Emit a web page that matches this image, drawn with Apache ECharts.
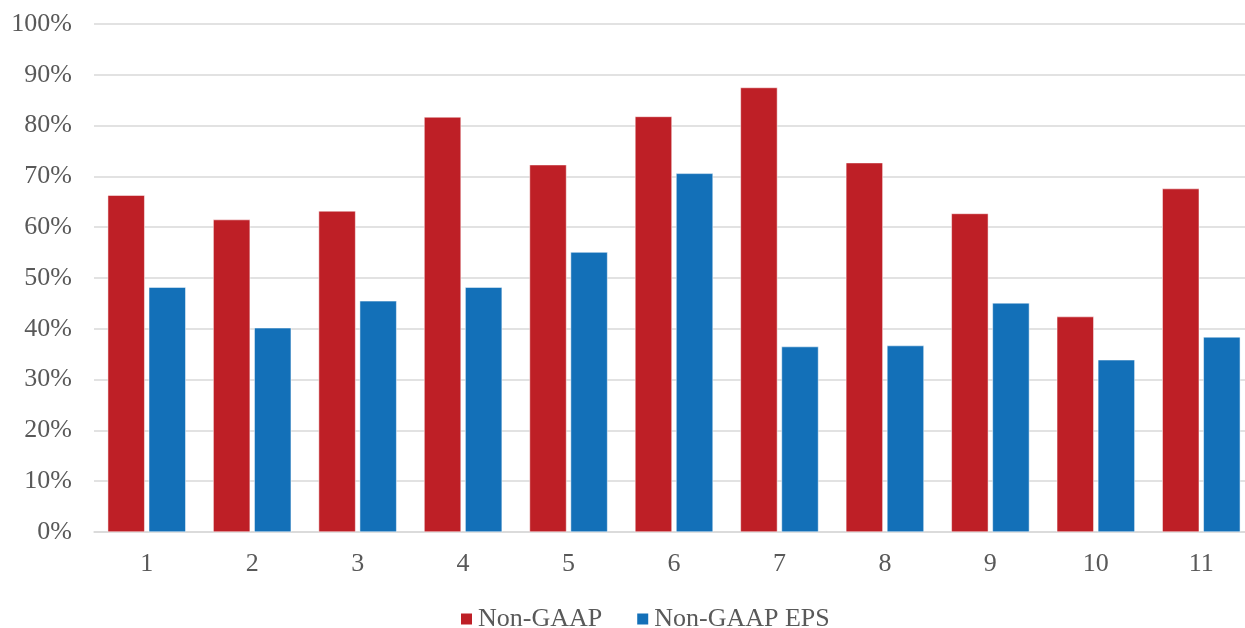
<!DOCTYPE html>
<html>
<head>
<meta charset="utf-8">
<script src="https://cdn.jsdelivr.net/npm/echarts@6/dist/echarts.min.js"></script>
<style>
html,body{margin:0;padding:0;background:#fff;overflow:hidden;}
#chart{width:1245px;height:628px;}
</style>
</head>
<body>
<div id="chart"></div>
<script>
const categories = ['1','2','3','4','5','6','7','8','9','10','11'];
const nonGaap = [66.3, 61.5, 63.2, 81.7, 72.3, 81.8, 87.5, 72.7, 62.7, 42.4, 67.6];
const nonGaapEps = [48.2, 40.2, 45.5, 48.2, 55.1, 70.6, 36.5, 36.7, 45.1, 33.9, 38.4];
const seriesNames = ['Non-GAAP', 'Non-GAAP EPS'];

const font = '"Liberation Serif", "Times New Roman", serif';
const chart = echarts.init(document.getElementById('chart'));
chart.setOption({
  animation: false,
  grid: { left: 94, width: 1160, top: 24, bottom: 96, outerBoundsMode: 'none', containLabel: false },
  legend: {
    data: seriesNames,
    bottom: -4,
    left: 459,
    padding: 0,
    itemWidth: 13,
    itemHeight: 13,
    itemGap: 33,
    icon: 'rect',
    textStyle: { fontFamily: font, fontSize: 26, color: '#595959' }
  },
  xAxis: {
    type: 'category',
    data: categories,
    axisLine: { show: true, lineStyle: { color: '#d9d9d9', width: 1.5 } },
    axisTick: { show: false },
    axisLabel: { fontFamily: font, fontSize: 26, color: '#595959', margin: 19 }
  },
  yAxis: {
    type: 'value',
    min: 0,
    max: 100,
    interval: 10,
    axisLine: { show: false },
    axisTick: { show: false },
    splitLine: { lineStyle: { color: '#d9d9d9', width: 1.5 } },
    axisLabel: { fontFamily: font, fontSize: 26, color: '#595959', margin: 22, formatter: '{value}%' }
  },
  series: [
    {
      name: seriesNames[0], type: 'bar', data: nonGaap,
      barWidth: 37, barGap: '11%',
      itemStyle: { color: '#BE1F26', borderColor: '#fff', borderWidth: 0.5 }
    },
    {
      name: seriesNames[1], type: 'bar', data: nonGaapEps,
      barWidth: 37, barGap: '11%',
      itemStyle: { color: '#1370B8', borderColor: '#fff', borderWidth: 0.5 }
    }
  ]
});
</script>
</body>
</html>
